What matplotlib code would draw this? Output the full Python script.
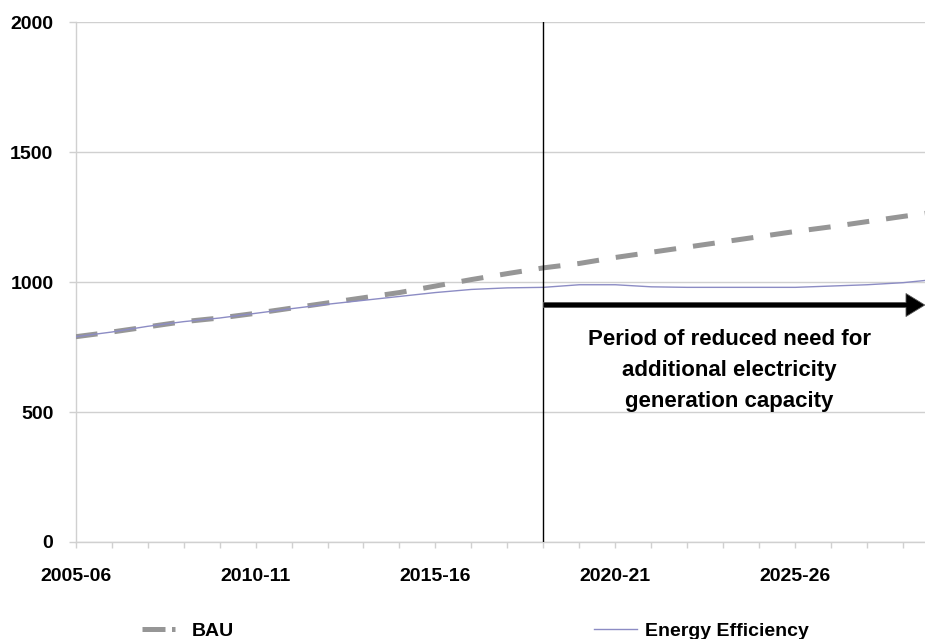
import numpy as np
import matplotlib
matplotlib.use('Agg')
import matplotlib.pyplot as plt
from matplotlib.lines import Line2D

plt.rcParams['font.family'] = ['Liberation Sans', 'DejaVu Sans']
plt.rcParams['font.weight'] = 'bold'

# financial years 2005-06 .. 2029-30
years = ['%d-%02d' % (y, (y + 1) % 100) for y in range(2005, 2030)]

bau = [790, 808, 828, 848, 862, 880, 900, 920, 940, 960,
       985, 1010, 1033, 1055, 1072, 1095, 1115, 1135, 1155, 1175,
       1195, 1213, 1233, 1253, 1272]
energy_eff = [790, 808, 830, 848, 862, 880, 898, 915, 930, 945,
              960, 972, 978, 980, 990, 990, 982, 980, 980, 980,
              980, 985, 990, 998, 1012]

split_idx = 13          # 2018-19
arrow_level = 912
arrow_end = 23.6
note = 'Period of reduced need for\nadditional electricity\ngeneration capacity'

fig = plt.figure(figsize=(9.25, 6.39), dpi=100)
ax = fig.add_axes([0.0818, 0.1518, 0.9335, 0.8133])

x = np.arange(len(years))
ax.plot(x, bau, color='#969696', lw=3.6, linestyle=(0, (4.4, 3.4)),
        dash_capstyle='butt', label='BAU', zorder=3)
ax.plot(x, energy_eff, color='#8c8cc4', lw=1.0, label='Energy Efficiency', zorder=4)

ax.set_xlim(0, len(years) - 1)
ax.set_ylim(0, 2000)
ax.set_yticks(np.arange(0, 2001, 500))
ax.set_xticks(x)
ax.set_xticklabels([y if i % 5 == 0 else '' for i, y in enumerate(years)])

grid_col = '#d0d0d0'
ax.yaxis.grid(True, color=grid_col, lw=1.0)
ax.set_axisbelow(True)
for side in ['top', 'right']:
    ax.spines[side].set_visible(False)
for side in ['left', 'bottom']:
    ax.spines[side].set_color(grid_col)
    ax.spines[side].set_linewidth(1.0)
ax.tick_params(axis='x', length=4.5, width=1.0, color=grid_col, pad=14,
               labelsize=14)
ax.tick_params(axis='y', length=5, width=1.0, color=grid_col, pad=11,
               labelsize=14)

# split marker and arrow
ax.plot([split_idx, split_idx], [0, 2000], color='black', lw=1.0, zorder=5)
ax.annotate('', xy=(arrow_end, arrow_level), xytext=(split_idx, arrow_level),
            arrowprops=dict(width=3.6, headwidth=16.5, headlength=13.5,
                            facecolor='black', edgecolor='#555555', lw=0.6),
            annotation_clip=False, zorder=6)
ax.text(18.17, 661, note, ha='center', va='center', multialignment='center',
        fontsize=16, fontweight='bold', linespacing=1.62)

handles = [Line2D([], [], color='#969696', lw=3.6,
                  linestyle=(0, (4.6, 1.3, 0.7, 6.0)), dash_capstyle='butt'),
           Line2D([], [], color='#8c8cc4', lw=1.0)]
fig.legend(handles, ['BAU', 'Energy Efficiency'], loc='center',
           bbox_to_anchor=(0.5135, 1 - 631 / 639), ncol=2, frameon=False,
           fontsize=14, handlelength=2.2, handletextpad=0.4,
           columnspacing=18.5)

fig.savefig('out.png', dpi=100)
